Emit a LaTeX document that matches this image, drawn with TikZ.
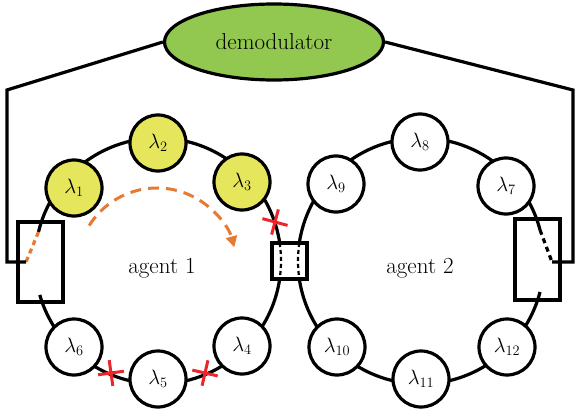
\documentclass[tikz,border=0pt]{standalone}
\usetikzlibrary{shapes.geometric,arrows.meta}
\definecolor{ringyellow}{RGB}{230,230,92}
\definecolor{demodgreen}{RGB}{146,200,80}
\definecolor{flowor}{RGB}{230,122,50}
\definecolor{cutred}{RGB}{236,38,40}
\tikzset{
  wire/.style={line width=3.2pt},
  res/.style={circle,draw,line width=3.2pt,fill=white,minimum size=56pt,inner sep=0pt,
    font=\fontsize{21}{24}\selectfont},
  resy/.style={res,fill=ringyellow},
  demod/.style={ellipse,draw,line width=3.2pt,fill=demodgreen,minimum width=219pt,
    minimum height=76pt,inner sep=0pt,font=\fontsize{23}{26}\selectfont},
  tapbox/.style={rectangle,draw,line width=3.2pt,inner sep=0pt},
  inner/.style={line width=2.2pt,dash pattern=on 4pt off 3pt},
  tapdots/.style={line width=3.2pt,dash pattern=on 5pt off 4pt},
  crossline/.style={cutred,line width=3pt},
  xmark/.pic={\draw[crossline] (-13,0) -- (13,0) (0,-13) -- (0,13);},
  agent/.style={font=\fontsize{23}{26}\selectfont,inner sep=0pt}
}
\begin{document}
\begin{tikzpicture}[x=1pt,y=1pt]
\useasboundingbox (0,0) rectangle (575,-414);

% the two rings
\coordinate (lc) at (158,-261);
\coordinate (rc) at (421,-261);
\draw[wire] (lc) ++(166.4:123) coordinate (ltap) arc[start angle=166.4,end angle=-164,radius=123pt];
\draw[wire] (rc) ++(14.6:123) coordinate (rtap) arc[start angle=14.6,end angle=345.4,radius=123pt];

% coupler between the rings
\node[tapbox,fill=white,minimum width=35pt,minimum height=36pt] (cpl) at (289.5,-261) {};
\draw[inner] (lc) ++(8.4:123) arc[start angle=8.4,end angle=-8.4,radius=123pt];
\draw[inner] (rc) ++(171.6:123) arc[start angle=171.6,end angle=188.4,radius=123pt];
\node[tapbox,minimum width=35pt,minimum height=36pt] at (cpl) {};

% side taps
\node[tapbox,minimum width=45pt,minimum height=80pt] (lbox) at (40.5,-262) {};
\node[tapbox,minimum width=45pt,minimum height=81pt] (rbox) at (537.5,-259.5) {};
\coordinate (lfe) at (26,-262);
\coordinate (rfe) at (552,-262);
\draw[tapdots,flowor] (ltap) -- (lfe);
\draw[tapdots] (rtap) -- (rfe);

% resonators of agent 1
\node[resy] (l1) at (74,-188) {$\lambda_{1}$};
\node[resy] (l2) at (158,-143) {$\lambda_{2}$};
\node[resy] (l3) at (242,-182) {$\lambda_{3}$};
\node[res] (l4) at (242,-346) {$\lambda_{4}$};
\node[res] (l5) at (158,-379) {$\lambda_{5}$};
\node[res] (l6) at (74,-347) {$\lambda_{6}$};

% resonators of agent 2
\node[res] (l7) at (506,-186) {$\lambda_{7}$};
\node[res] (l8) at (420,-142) {$\lambda_{8}$};
\node[res] (l9) at (336,-184) {$\lambda_{9}$};
\node[res] (l10) at (337,-347) {$\lambda_{10}$};
\node[res] (l11) at (421,-379) {$\lambda_{11}$};
\node[res] (l12) at (507,-347) {$\lambda_{12}$};

% demodulator and its feed lines
\node[demod] (dm) at (274,-42) {demodulator};
\draw[wire] (dm.west) -- (7,-90) |- (lfe);
\draw[wire] (dm.east) -- (573,-90) |- (rfe);

% broken links
\pic[rotate=-15] at (275,-222) {xmark};
\pic[rotate=8] at (111,-373) {xmark};
\pic[rotate=-13] at (205,-373) {xmark};

% signal flow in agent 1
\draw[flowor,line width=3pt,dash pattern=on 11pt off 7pt,-{Triangle[length=11pt,width=11pt]}]
  (157,-268) ++(148:80) arc[start angle=148,end angle=15,radius=80pt];

\node[agent] (a1) at (162,-268) {agent 1};
\node[agent] (a2) at (420,-268) {agent 2};
\end{tikzpicture}
\end{document}
